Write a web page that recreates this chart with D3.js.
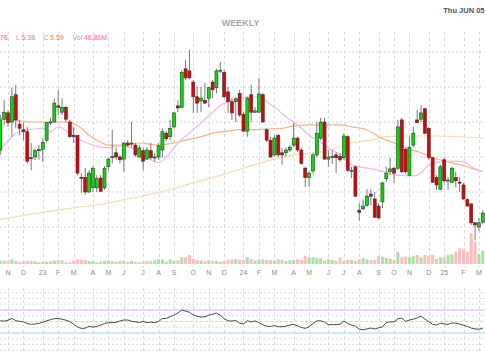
<!DOCTYPE html>
<html>
<head>
<meta charset="utf-8">
<script src="https://cdnjs.cloudflare.com/ajax/libs/d3/7.8.5/d3.min.js"></script>
<style>
    body { margin: 0; background: #fff; }
    svg { display: block; font-family: "Liberation Sans", Arial, sans-serif; }
</style>
</head>
<body>
<div id="chart"></div>
<script>
// one bar per week (Friday close)
const dates = d3.timeFriday.range(new Date(2022, 9, 21), new Date(2025, 2, 15));

const opens = [6.60, 7.04, 7.13, 7.00, 7.39, 6.97, 6.89, 6.86, 6.49, 6.50, 6.59, 6.61, 6.74, 6.99, 7.00, 7.23, 7.14, 7.21, 7.00, 6.81,
    6.81, 6.21, 6.21, 6.00, 6.06, 6.06, 6.20, 6.06, 6.36, 6.49, 6.56, 6.50, 6.47, 6.70, 6.69, 6.67, 6.50, 6.59, 6.47, 6.59,
    6.49, 6.50, 6.60, 6.84, 6.79, 6.93, 7.23, 7.21, 7.76, 7.73, 7.57, 7.36, 7.30, 7.31, 7.34, 7.57, 7.49, 7.73, 7.71, 7.43,
    7.29, 7.29, 7.41, 7.11, 6.87, 7.39, 7.14, 7.14, 7.39, 6.89, 6.74, 6.53, 6.81, 6.56, 6.56, 6.60, 6.67, 6.77, 6.60, 6.34,
    6.21, 6.30, 6.53, 6.77, 7.00, 6.47, 6.50, 6.53, 6.51, 6.49, 6.79, 6.30, 6.36, 5.74, 5.76, 5.81, 5.97, 5.90, 5.80, 5.86,
    6.19, 6.29, 6.34, 6.34, 7.03, 6.61, 6.24, 6.67, 7.03, 7.04, 7.19, 6.91, 6.49, 6.21, 6.04, 6.46, 6.16, 6.14, 6.21, 6.14,
    6.10, 5.89, 5.83, 5.56, 5.50, 5.57];
const highs = [7.10, 7.31, 7.17, 7.49, 7.53, 7.03, 6.99, 6.93, 6.70, 6.63, 6.67, 6.77, 7.00, 7.06, 7.33, 7.46, 7.34, 7.23, 7.03, 6.93,
    6.81, 6.27, 6.34, 6.31, 6.37, 6.24, 6.24, 6.37, 6.49, 6.89, 6.63, 6.53, 6.71, 6.74, 7.00, 6.70, 6.67, 6.63, 6.64, 6.70,
    6.56, 6.70, 6.91, 6.87, 7.03, 7.14, 7.31, 7.74, 7.89, 8.03, 7.60, 7.50, 7.50, 7.56, 7.50, 7.60, 7.76, 7.86, 7.74, 7.50,
    7.34, 7.36, 7.46, 7.14, 7.36, 7.53, 7.21, 7.63, 7.41, 6.91, 6.79, 6.81, 6.83, 6.63, 6.64, 6.67, 6.99, 6.79, 6.63, 6.36,
    6.29, 6.56, 7.00, 7.06, 7.06, 6.60, 6.60, 6.57, 6.56, 6.84, 6.81, 6.36, 6.37, 5.84, 5.89, 6.04, 6.04, 6.00, 5.84, 6.14,
    6.36, 6.49, 6.36, 7.03, 7.06, 6.63, 6.79, 6.93, 7.17, 7.24, 7.20, 6.93, 6.50, 6.24, 6.39, 6.49, 6.21, 6.36, 6.29, 6.21,
    6.13, 5.91, 5.84, 5.57, 5.63, 5.74];
const lows = [6.53, 6.96, 6.93, 6.79, 6.91, 6.81, 6.74, 6.41, 6.31, 6.46, 6.46, 6.43, 6.71, 6.96, 6.99, 7.10, 7.10, 7.00, 6.77, 6.70,
    6.24, 5.99, 5.96, 5.99, 6.00, 6.00, 6.00, 6.03, 6.31, 6.41, 6.46, 6.41, 6.29, 6.64, 6.64, 6.50, 6.49, 6.31, 6.46, 6.46,
    6.43, 6.46, 6.49, 6.73, 6.74, 6.91, 7.14, 7.20, 7.60, 7.61, 7.13, 7.13, 7.14, 7.26, 7.21, 7.34, 7.41, 7.70, 7.34, 7.13,
    7.03, 7.00, 7.07, 6.86, 6.79, 7.00, 7.13, 7.13, 6.99, 6.71, 6.49, 6.50, 6.50, 6.39, 6.51, 6.57, 6.64, 6.57, 6.39, 6.07,
    6.07, 6.26, 6.50, 6.74, 6.46, 6.36, 6.40, 6.27, 6.43, 6.46, 6.29, 6.20, 5.93, 5.59, 5.74, 5.79, 5.81, 5.63, 5.61, 5.77,
    6.14, 6.24, 6.13, 6.31, 6.27, 6.26, 6.23, 6.64, 6.99, 7.00, 6.83, 6.46, 6.13, 6.03, 6.03, 6.13, 6.03, 6.13, 6.07, 6.00,
    5.89, 5.79, 5.53, 5.31, 5.44, 5.54];
const closes = [7.03, 7.14, 6.99, 7.36, 7.03, 6.91, 6.86, 6.44, 6.48, 6.59, 6.61, 6.71, 6.99, 7.00, 7.27, 7.21, 7.21, 7.04, 6.79, 6.79,
    6.27, 6.20, 6.00, 6.27, 6.34, 6.19, 6.01, 6.34, 6.47, 6.51, 6.50, 6.46, 6.70, 6.67, 6.70, 6.53, 6.63, 6.44, 6.60, 6.49,
    6.50, 6.66, 6.86, 6.76, 6.91, 7.13, 7.20, 7.71, 7.63, 7.63, 7.36, 7.27, 7.34, 7.27, 7.49, 7.46, 7.73, 7.74, 7.36, 7.29,
    7.13, 7.33, 7.10, 6.87, 7.34, 7.14, 7.16, 7.40, 7.00, 6.74, 6.50, 6.77, 6.53, 6.53, 6.60, 6.64, 6.77, 6.60, 6.41, 6.21,
    6.27, 6.53, 6.84, 7.00, 6.47, 6.50, 6.51, 6.49, 6.46, 6.80, 6.31, 6.31, 5.94, 5.71, 5.80, 5.94, 5.94, 5.64, 5.63, 6.13,
    6.27, 6.33, 6.27, 6.93, 6.29, 6.29, 6.64, 6.84, 6.99, 7.13, 6.84, 6.49, 6.14, 6.10, 6.36, 6.16, 6.17, 6.34, 6.16, 6.13,
    5.90, 5.80, 5.56, 5.53, 5.56, 5.70];
// volume in millions
const volumes = [11.6, 11.6, 11.6, 16.4, 11.6, 7, 8.1, 10.5, 10.5, 9.4, 5.9, 7, 8.1, 9.4, 11.6, 14, 12.9, 5.9, 7, 11.6,
    16.4, 15.1, 14, 9.4, 9.4, 5.9, 9.4, 10.5, 11.6, 9.4, 8.1, 10.5, 11.6, 8.1, 10.5, 7, 5.9, 8.1, 9.4, 10.5,
    12.9, 16.4, 15.1, 9.4, 16.4, 11.6, 12.9, 23.4, 23.4, 31.5, 18.6, 14, 11.6, 9.4, 12.9, 10.5, 10.5, 7, 11.6, 15.1,
    16.4, 16.4, 14, 14, 23.4, 16.4, 11.6, 16.4, 16.4, 14, 14, 11.6, 16.4, 14, 10.5, 12.9, 14, 16.4, 14, 29,
    23.4, 23.4, 21, 20, 11.6, 16.4, 14, 11.6, 23.4, 11.6, 14, 14, 11.6, 16.4, 20, 16.4, 14, 14, 28, 25.6,
    21, 18.6, 14, 41, 23.4, 25.6, 23.4, 28, 31.5, 23.4, 31.5, 28, 31.5, 17.5, 23.4, 23.4, 31.5, 34, 43, 55,
    51.5, 43, 107.5, 78, 35, 46.6];
const rsi = [51.4, 50.6, 52.2, 55.4, 51.3, 50.4, 49.2, 46.4, 45.1, 45.6, 46.9, 48.6, 51.2, 53.1, 55, 55.1, 54, 52.2, 49.9, 45.2,
    40.5, 37.9, 38.4, 41.9, 40.1, 41.4, 43.7, 46.4, 48, 48, 48.7, 51, 52.6, 52.6, 50.4, 49.4, 48.3, 50.1, 48.1, 48.9,
    48.1, 50, 55.2, 55.4, 58.4, 61.2, 64.7, 70, 68.1, 66, 61.3, 59, 57.7, 58.3, 60.9, 62.7, 64.5, 61, 54.8, 51.2,
    50.8, 51.8, 47, 46, 51.5, 49.2, 51, 48.1, 44.4, 41.8, 41.3, 42.9, 41, 41, 41.8, 43.8, 45, 42.3, 39.6, 38,
    40.8, 46.5, 51.1, 51.2, 49, 44.5, 44.5, 44.5, 45.3, 50.7, 46.4, 43.8, 41.9, 36.8, 35.4, 37.1, 38.6, 37, 38.9, 40.6,
    48.1, 49.4, 49.4, 54.7, 56, 50.2, 52.5, 54, 56.4, 59.5, 54.2, 49.8, 45.2, 43.8, 46.8, 46, 44.7, 47.4, 47, 45.7,
    43.5, 41.4, 38.6, 37.1, 36.5, 38.4];

// moving averages: [week index, price]
const maFast = [[0, 6.60], [5, 6.86], [11, 6.91], [13, 6.86], [15, 6.93], [17, 6.88], [19, 6.80], [22, 6.71], [26, 6.64],
    [28, 6.63], [31, 6.66], [34, 6.63], [38, 6.49], [41, 6.42], [43, 6.50], [46, 6.70], [50, 6.89], [52, 6.99], [55, 7.14],
    [57, 7.24], [59, 7.29], [62, 7.34], [65, 7.36], [67, 7.36], [69, 7.29], [72, 7.17], [74, 7.07], [76, 7.00], [78, 6.91],
    [81, 6.77], [83, 6.71], [85, 6.63], [88, 6.53], [91, 6.39], [95, 6.34], [98, 6.31], [103, 6.24], [107, 6.23], [109, 6.27],
    [111, 6.39], [114, 6.43], [117, 6.44], [120, 6.43], [122, 6.36], [125, 6.29]];
const maMid = [[0, 7.06], [3, 7.03], [6, 7.01], [9, 7.00], [15, 7.00], [18, 6.99], [21, 6.91], [23, 6.81], [26, 6.71],
    [28, 6.67], [32, 6.67], [36, 6.70], [41, 6.67], [45, 6.70], [48, 6.74], [52, 6.79], [55, 6.84], [59, 6.87], [62, 6.89],
    [66, 6.89], [69, 6.90], [73, 6.91], [76, 6.94], [80, 6.96], [88, 6.96], [91, 6.93], [95, 6.89], [98, 6.79], [102, 6.70],
    [105, 6.63], [109, 6.56], [112, 6.49], [116, 6.43], [119, 6.39], [122, 6.34], [125, 6.29]];
const maSlow = [[0, 5.61], [11, 5.71], [21, 5.79], [28, 5.84], [32, 5.89], [41, 5.99], [50, 6.13], [59, 6.27], [67, 6.41],
    [76, 6.53], [83, 6.57], [91, 6.70], [96, 6.74], [100, 6.79], [105, 6.80], [113, 6.80], [125, 6.77]];

const priceTicks = [5.5, 6, 6.5, 7, 7.5, 8];
const rsiLevels = [{v: 70, color: "#dcaaf0", dash: null}, {v: 50, color: "#f8c4c4", dash: "3,2"}, {v: 30, color: "#a6d3ec", dash: null}];
const legend = [["H", "5.76"], ["L", "5.38"], ["C", "5.59"], ["Vol", "46.86M"]];

let width = 485, height = 360;

let svg = d3.select("#chart")
    .append("svg")
    .attr("width", width)
    .attr("height", height);

// scales
let x = d3.scaleTime()
    .domain([dates[0], dates[dates.length - 1]])
    .range([0.3, 482.8]);
let y = d3.scaleLinear().domain([5.5, 8]).range([227, 52]);
let yVol = d3.scaleLinear().domain([0, 168]).range([264, 216]);
let yRsi = d3.scaleLinear().domain([0, 100]).range([350.25, 292.75]);

// first bar of every month gets a tick
let monthTicks = dates.filter((d, i) => i > 0 && d.getMonth() !== dates[i - 1].getMonth());
let monthLabel = d => d.getMonth() === 0 ? d3.timeFormat("%y")(d) : d3.timeFormat("%b")(d)[0];

// ****************** grid ***************************
let grid = svg.append("g");

grid.selectAll("line.h")
    .data(priceTicks)
    .enter().append("line")
    .attr("x1", 0).attr("x2", width)
    .attr("y1", d => y(d)).attr("y2", d => y(d))
    .style("stroke", "#d4d4d4")
    .style("stroke-dasharray", "2,2");

grid.selectAll("line.v")
    .data(monthTicks)
    .enter().append("line")
    .attr("x1", d => Math.round(x(d)) + 0.5).attr("x2", d => Math.round(x(d)) + 0.5)
    .attr("y1", 32).attr("y2", 267)
    .style("stroke", "#dadada")
    .style("stroke-dasharray", "3,3");

// rsi panel grid
grid.selectAll("line.rh")
    .data(d3.range(0, 101, 10).filter(v => v !== 30 && v !== 50 && v !== 70))
    .enter().append("line")
    .attr("x1", 0).attr("x2", width)
    .attr("y1", d => yRsi(d)).attr("y2", d => yRsi(d))
    .style("stroke", "#dedede")
    .style("stroke-dasharray", "2,2");

grid.selectAll("line.rv")
    .data(monthTicks)
    .enter().append("line")
    .attr("x1", d => Math.round(x(d)) + 0.5).attr("x2", d => Math.round(x(d)) + 0.5)
    .attr("y1", 288).attr("y2", 352)
    .style("stroke", "#dadada")
    .style("stroke-dasharray", "3,3");

// ****************** volume ***************************
svg.append("g").selectAll("rect")
    .data(volumes)
    .enter().append("rect")
    .attr("x", (d, i) => x(dates[i]) - 1.5)
    .attr("width", 3)
    .attr("y", d => yVol(d))
    .attr("height", d => yVol(0) - yVol(d))
    .style("fill", (d, i) => closes[i] >= opens[i] ? "#a6e2a6" : "#ffbdbd");

// ****************** moving averages ***************************
let maLine = d3.line()
    .x(d => x(dates[d[0]]))
    .y(d => y(d[1]))
    .curve(d3.curveMonotoneX);

[[maSlow, "#f7ddb0"], [maMid, "#f9b482"], [maFast, "#f3b6ee"]].forEach(function (m) {
    svg.append("path")
        .datum(m[0])
        .attr("d", maLine)
        .style("fill", "none")
        .style("stroke", m[1])
        .style("stroke-width", 1.2);
});

// ****************** candles ***************************
let candle = svg.append("g").selectAll("g")
    .data(dates)
    .enter().append("g");

candle.append("line")
    .attr("x1", d => x(d)).attr("x2", d => x(d))
    .attr("y1", (d, i) => y(highs[i]))
    .attr("y2", (d, i) => y(lows[i]))
    .style("stroke", "#7a7a7a")
    .style("stroke-width", 1);

candle.append("rect")
    .attr("x", d => x(d) - 1.5)
    .attr("width", 3)
    .attr("y", (d, i) => y(Math.max(opens[i], closes[i])))
    .attr("height", (d, i) => Math.max(1, Math.abs(y(opens[i]) - y(closes[i]))))
    .style("fill", (d, i) => closes[i] >= opens[i] ? "#00e000" : "#e00000")
    .style("stroke", "#333")
    .style("stroke-width", 0.6);

// ****************** month labels ***************************
svg.append("g").selectAll("text")
    .data(monthTicks)
    .enter().append("text")
    .attr("x", d => x(d))
    .attr("y", 274.5)
    .attr("text-anchor", "middle")
    .style("font-size", "7px")
    .style("fill", "#8c8c8c")
    .text(monthLabel);

// ****************** rsi panel ***************************
svg.append("g").selectAll("line")
    .data(rsiLevels)
    .enter().append("line")
    .attr("x1", 0).attr("x2", width)
    .attr("y1", d => yRsi(d.v)).attr("y2", d => yRsi(d.v))
    .style("stroke", d => d.color)
    .style("stroke-width", 1.2)
    .style("stroke-dasharray", d => d.dash);

svg.append("path")
    .datum(rsi)
    .attr("d", d3.line().x((d, i) => x(dates[i])).y(d => yRsi(d)))
    .style("fill", "none")
    .style("stroke", "#4a4a4a")
    .style("stroke-width", 1);

// ****************** header ***************************
svg.append("text")
    .attr("x", 240.7).attr("y", 26)
    .attr("text-anchor", "middle")
    .style("font-size", "9px")
    .style("font-weight", "bold")
    .style("fill", "#a4a8ba")
    .text("WEEKLY");

svg.append("text")
    .attr("x", 484.5).attr("y", 12.5)
    .attr("text-anchor", "end")
    .style("font-size", "7.5px")
    .style("font-weight", "bold")
    .style("fill", "#4b5068")
    .text("Thu JUN 05");

let legendX = [-12.5, 16, 43.5, 72.5];
legend.forEach(function (item, k) {
    let t = svg.append("text")
        .attr("x", legendX[k]).attr("y", 39.5)
        .style("font-size", "7px");
    t.append("tspan").style("fill", "#a6a6a6").text(item[0]);
    t.append("tspan").attr("dx", 1.5).style("fill", "#ff6f6f").text(item[1]);
});
</script>
</body>
</html>
